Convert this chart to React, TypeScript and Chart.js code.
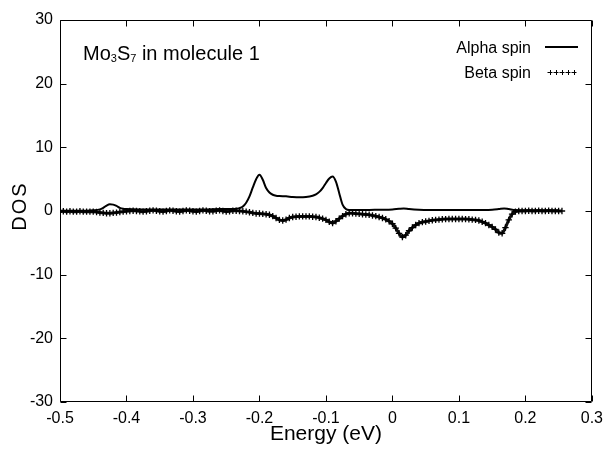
import React, { useEffect, useRef } from "react";
import { Chart, registerables } from "chart.js";

Chart.register(...registerables);

const xTicks = [-0.5, -0.4, -0.3, -0.2, -0.1, 0, 0.1, 0.2, 0.3];
const yTicks = [-30, -20, -10, 0, 10, 20, 30];

const alphaEnergy = [
  -0.500, -0.480, -0.460, -0.450, -0.440, -0.435, -0.430, -0.425, -0.420, -0.415,
  -0.410, -0.405, -0.400, -0.380, -0.360, -0.340, -0.320, -0.300, -0.280, -0.260,
  -0.240, -0.235, -0.230, -0.225, -0.220, -0.215, -0.210, -0.205, -0.200, -0.195,
  -0.190, -0.185, -0.180, -0.175, -0.170, -0.160, -0.150, -0.140, -0.130, -0.120,
  -0.115, -0.110, -0.105, -0.100, -0.095, -0.090, -0.085, -0.080, -0.075, -0.070,
  -0.065, -0.060, -0.040, -0.020, 0.000, 0.010, 0.017, 0.025, 0.040, 0.080,
  0.120, 0.150, 0.160, 0.168, 0.175, 0.185, 0.200, 0.230, 0.250,
];
const alphaDos = [
  0.05, 0.05, 0.05, 0.1, 0.25, 0.5, 0.85, 1.05, 1.0, 0.8,
  0.5, 0.35, 0.3, 0.25, 0.25, 0.25, 0.25, 0.25, 0.25, 0.3,
  0.3, 0.35, 0.45, 0.7, 1.3, 2.3, 3.7, 5.0, 5.7, 4.9,
  3.6, 2.9, 2.55, 2.4, 2.35, 2.3, 2.2, 2.15, 2.2, 2.4,
  2.6, 3.0, 3.6, 4.4, 5.1, 5.4, 4.6, 2.8, 1.0, 0.3,
  0.15, 0.15, 0.15, 0.2, 0.25, 0.35, 0.4, 0.3, 0.2, 0.15,
  0.15, 0.2, 0.3, 0.4, 0.3, 0.15, 0.1, 0.1, 0.1,
];

const betaEnergy = [
  -0.500, -0.495, -0.490, -0.485, -0.480, -0.475, -0.470, -0.465, -0.460, -0.455,
  -0.450, -0.445, -0.440, -0.435, -0.430, -0.425, -0.420, -0.415, -0.410, -0.405,
  -0.400, -0.395, -0.390, -0.385, -0.380, -0.375, -0.370, -0.365, -0.360, -0.355,
  -0.350, -0.345, -0.340, -0.335, -0.330, -0.325, -0.320, -0.315, -0.310, -0.305,
  -0.300, -0.295, -0.290, -0.285, -0.280, -0.275, -0.270, -0.265, -0.260, -0.255,
  -0.250, -0.245, -0.240, -0.235, -0.230, -0.225, -0.220, -0.215, -0.210, -0.205,
  -0.200, -0.195, -0.190, -0.185, -0.180, -0.175, -0.170, -0.165, -0.160, -0.155,
  -0.150, -0.145, -0.140, -0.135, -0.130, -0.125, -0.120, -0.115, -0.110, -0.105,
  -0.100, -0.095, -0.090, -0.085, -0.080, -0.075, -0.070, -0.065, -0.060, -0.055,
  -0.050, -0.045, -0.040, -0.035, -0.030, -0.025, -0.020, -0.015, -0.010, -0.005,
  0.000, 0.005, 0.010, 0.015, 0.020, 0.025, 0.030, 0.035, 0.040, 0.045,
  0.050, 0.055, 0.060, 0.065, 0.070, 0.075, 0.080, 0.085, 0.090, 0.095,
  0.100, 0.105, 0.110, 0.115, 0.120, 0.125, 0.130, 0.135, 0.140, 0.145,
  0.150, 0.155, 0.160, 0.165, 0.170, 0.175, 0.180, 0.185, 0.190, 0.195,
  0.200, 0.205, 0.210, 0.215, 0.220, 0.225, 0.230, 0.235, 0.240, 0.245,
  0.250, 0.255,
];
const betaDos = [
  -0.1, -0.05, -0.1, -0.05, -0.1, -0.1, -0.05, -0.1, -0.1, -0.1,
  -0.1, -0.15, -0.25, -0.3, -0.35, -0.35, -0.3, -0.25, -0.15, -0.1,
  -0.05, 0, 0.05, 0, -0.05, -0.1, -0.05, 0.05, 0.1, 0.05,
  -0.05, -0.1, 0, 0.1, 0.05, -0.05, -0.1, 0, 0.1, 0.05,
  -0.05, -0.1, 0, 0.1, 0.05, -0.05, -0.05, 0.05, 0.1, 0,
  -0.1, -0.05, 0.05, 0.05, 0, -0.05, -0.1, -0.2, -0.3, -0.4,
  -0.4, -0.45, -0.5, -0.6, -0.8, -1.1, -1.4, -1.5, -1.35, -1.1,
  -0.95, -0.9, -0.85, -0.85, -0.85, -0.85, -0.9, -0.95, -1.05, -1.2,
  -1.4, -1.7, -1.9, -1.6, -1.2, -0.8, -0.5, -0.35, -0.35, -0.4,
  -0.45, -0.5, -0.55, -0.6, -0.7, -0.8, -0.95, -1.1, -1.3, -1.6,
  -2.0, -2.7, -3.5, -4.1, -3.8, -3.1, -2.6, -2.2, -1.9, -1.75,
  -1.65, -1.55, -1.45, -1.4, -1.35, -1.3, -1.27, -1.25, -1.25, -1.25,
  -1.25, -1.25, -1.27, -1.3, -1.35, -1.4, -1.5, -1.7, -1.9, -2.2,
  -2.5, -2.9, -3.4, -3.5, -2.6, -1.4, -0.5, -0.1, 0, 0,
  0, 0.05, 0, 0, 0.05, 0, 0, 0.05, 0, 0,
  0, 0,
];

const FONT = "'Liberation Sans', Arial, Helvetica, sans-serif";

const decorPlugin = {
  id: "decor",
  afterDraw(chart: any) {
    const { ctx, chartArea } = chart;
    const { left, right, top, bottom } = chartArea;
    const xs = chart.scales.x;
    const ys = chart.scales.y;
    const L = Math.round(left) + 0.5;
    const R = Math.round(right) - 0.5;
    const T = Math.round(top) + 0.5;
    const B = Math.round(bottom) - 0.5;
    ctx.save();
    ctx.strokeStyle = "#000";
    ctx.lineWidth = 1;
    ctx.beginPath();
    ctx.rect(L, T, R - L, B - T);
    ctx.stroke();
    const tl = 6;
    ctx.beginPath();
    xTicks.forEach((v) => {
      const p = Math.round(xs.getPixelForValue(v)) + 0.5;
      ctx.moveTo(p, B);
      ctx.lineTo(p, B - tl);
      ctx.moveTo(p, T);
      ctx.lineTo(p, T + tl);
    });
    yTicks.forEach((v) => {
      const p = Math.round(ys.getPixelForValue(v)) + 0.5;
      ctx.moveTo(L, p);
      ctx.lineTo(L + tl, p);
      ctx.moveTo(R, p);
      ctx.lineTo(R - tl, p);
    });
    ctx.stroke();

    // axis titles
    ctx.fillStyle = "#000";
    ctx.textAlign = "center";
    ctx.textBaseline = "middle";
    ctx.font = `21px ${FONT}`;
    ctx.fillText("Energy (eV)", (left + right) / 2, 434);
    ctx.save();
    ctx.translate(20, 207);
    ctx.rotate(-Math.PI / 2);
    ctx.font = `20px ${FONT}`;
    try { (ctx as any).letterSpacing = "2px"; } catch (e) {}
    ctx.fillText("DOS", 1, 0);
    try { (ctx as any).letterSpacing = "0px"; } catch (e) {}
    ctx.restore();

    // label Mo3S7 in molecule 1
    ctx.textAlign = "left";
    ctx.textBaseline = "alphabetic";
    let x = 83;
    const base = 60;
    const parts: [string, boolean][] = [["Mo", false], ["3", true], ["S", false], ["7", true], [" in molecule 1", false]];
    parts.forEach(([t, sub]) => {
      ctx.font = sub ? `11px ${FONT}` : `20px ${FONT}`;
      ctx.fillText(t, x, sub ? base + 2 : base);
      x += ctx.measureText(t).width;
    });

    // legend
    ctx.font = `16px ${FONT}`;
    ctx.textAlign = "right";
    const ds = chart.data.datasets;
    ctx.fillText(ds[0].label, 531, 53);
    ctx.fillText(ds[1].label, 531, 78);
    ctx.lineWidth = 2;
    ctx.beginPath();
    ctx.moveTo(545, 47);
    ctx.lineTo(578, 47);
    ctx.stroke();
    ctx.lineWidth = 1;
    ctx.beginPath();
    for (let i = 0; i < 5; i++) {
      const cx = 550 + i * 6;
      ctx.moveTo(cx - 2.5, 72.5);
      ctx.lineTo(cx + 2.5, 72.5);
      ctx.moveTo(cx + 0.5, 70);
      ctx.lineTo(cx + 0.5, 75);
    }
    ctx.stroke();
    ctx.restore();
  },
};

export default function App() {
  const ref = useRef<HTMLCanvasElement | null>(null);
  useEffect(() => {
    document.body.style.margin = "0";
    const canvas = ref.current;
    if (!canvas) return;
    const alphaPts = alphaEnergy.map((e, i) => ({ x: e, y: alphaDos[i] }));
    const betaPts = betaEnergy.map((e, i) => ({ x: e, y: betaDos[i] }));
    const chart = new Chart(canvas, {
      type: "line",
      data: {
        datasets: [
          {
            label: "Alpha spin",
            data: alphaPts,
            borderColor: "#000",
            borderWidth: 2,
            pointRadius: 0,
            cubicInterpolationMode: "monotone",
            fill: false,
          },
          {
            label: "Beta spin",
            data: betaPts,
            showLine: true,
            borderColor: "#111",
            borderWidth: 3,
            cubicInterpolationMode: "monotone",
            backgroundColor: "#000",
            pointStyle: "cross",
            pointRadius: 3.2,
            pointBorderColor: "#000",
            pointBorderWidth: 1.3,
          },
        ],
      },
      options: {
        animation: false,
        responsive: true,
        maintainAspectRatio: false,
        layout: { padding: { top: 20, right: 13, left: 0, bottom: 0 } },
        plugins: { legend: { display: false }, tooltip: { enabled: false } },
        scales: {
          x: {
            type: "linear",
            min: -0.5,
            max: 0.3,
            afterBuildTicks: (s: any) => {
              s.ticks = xTicks.map((v) => ({ value: v }));
            },
            afterFit: (s: any) => {
              s.height = 51;
            },
            ticks: { color: "#000", font: { family: FONT, size: 16 }, padding: 7, maxRotation: 0, autoSkip: false },
            grid: { display: false, drawTicks: false },
            border: { display: false },
          },
          y: {
            type: "linear",
            min: -30,
            max: 30,
            afterBuildTicks: (s: any) => {
              s.ticks = yTicks.map((v) => ({ value: v }));
            },
            afterFit: (s: any) => {
              s.width = 60;
            },
            ticks: { color: "#000", font: { family: FONT, size: 16 }, padding: 7 },
            grid: { display: false, drawTicks: false },
            border: { display: false },
          },
        },
      },
      plugins: [decorPlugin],
    });
    return () => chart.destroy();
  }, []);
  return (
    <div style={{ width: 610, height: 453, position: "relative" }}>
      <canvas ref={ref} />
    </div>
  );
}
